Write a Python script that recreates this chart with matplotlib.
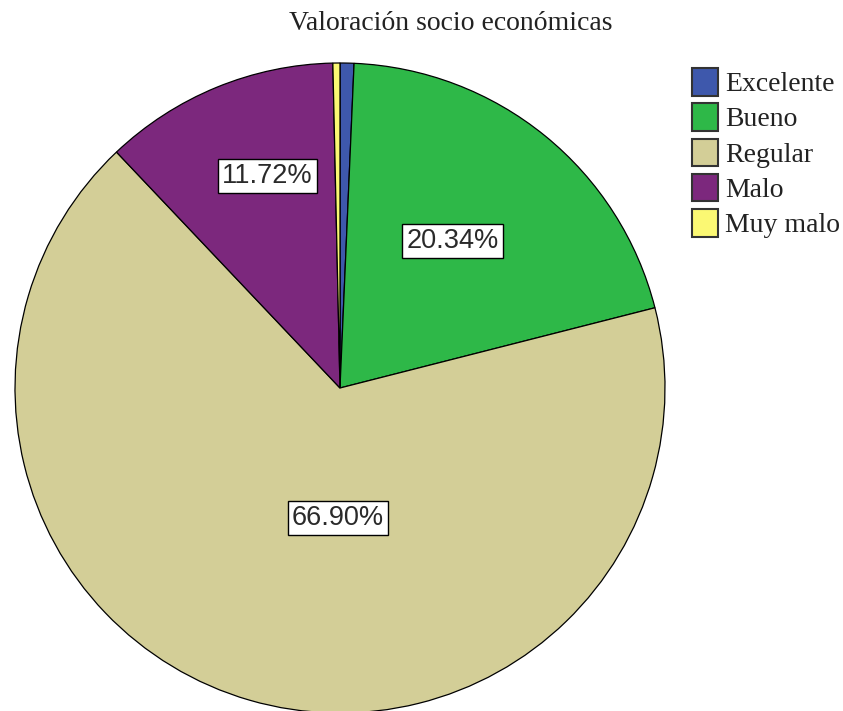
import numpy as np
import matplotlib
matplotlib.use("Agg")
import matplotlib.pyplot as plt

title = "Valoración socio económicas"
categories = ["Excelente", "Bueno", "Regular", "Malo", "Muy malo"]
percentages = [0.69, 20.34, 66.90, 11.72, 0.35]
colors = ["#3E58AC", "#2EB848", "#D3CE97", "#7C287D", "#FBF873"]
shown_labels = ["", "20.34%", "66.90%", "11.72%", ""]
# label placement: radial distance and angle offset (deg) from wedge middle
label_r = [0, 0.57, 0.40, 0.69, 0]
label_dang = [0, 1.7, 15.2, -3.4, 0]

W, H = 843, 711
fig = plt.figure(figsize=(W / 100, H / 100), dpi=100)
fig.patch.set_facecolor("white")

cx, cy, R = 340, 388, 325
ax = fig.add_axes([(cx - R) / W, (H - cy - R) / H, 2 * R / W, 2 * R / H])

wedges, _ = ax.pie(percentages, colors=colors, startangle=90, counterclock=False,
                   radius=1, frame=True,
                   wedgeprops=dict(edgecolor="black", linewidth=0.9))
ax.set_xlim(-1, 1)
ax.set_ylim(-1, 1)
ax.set_aspect("auto")
ax.axis("off")

for w, lab, r, da in zip(wedges, shown_labels, label_r, label_dang):
    if not lab:
        continue
    mid = np.deg2rad((w.theta1 + w.theta2) / 2 + da)
    ax.text(r * np.cos(mid), r * np.sin(mid), lab, ha="center", va="center",
            family="Liberation Sans", fontsize=19.5, color="#2a2a2a",
            bbox=dict(boxstyle="square,pad=0.15", facecolor="white",
                      edgecolor="black", linewidth=1.0))

fig.text(451 / W, 1 - 23 / H, title, ha="center", va="center",
         family="Liberation Serif", fontsize=20, color="#222222")

leg = fig.legend(wedges, categories, loc="upper left",
                 bbox_to_anchor=(692 / W, 1 - 68 / H),
                 frameon=False, prop=dict(family="Liberation Serif", size=20),
                 handlelength=0.95, handleheight=1.15, labelspacing=0.22,
                 handletextpad=0.25, borderaxespad=0, borderpad=0)
for h in leg.legend_handles:
    h.set_edgecolor("#333333")
    h.set_linewidth(1.5)
for t in leg.get_texts():
    t.set_color("#222222")

fig.savefig("out.png", dpi=100, facecolor="white")
